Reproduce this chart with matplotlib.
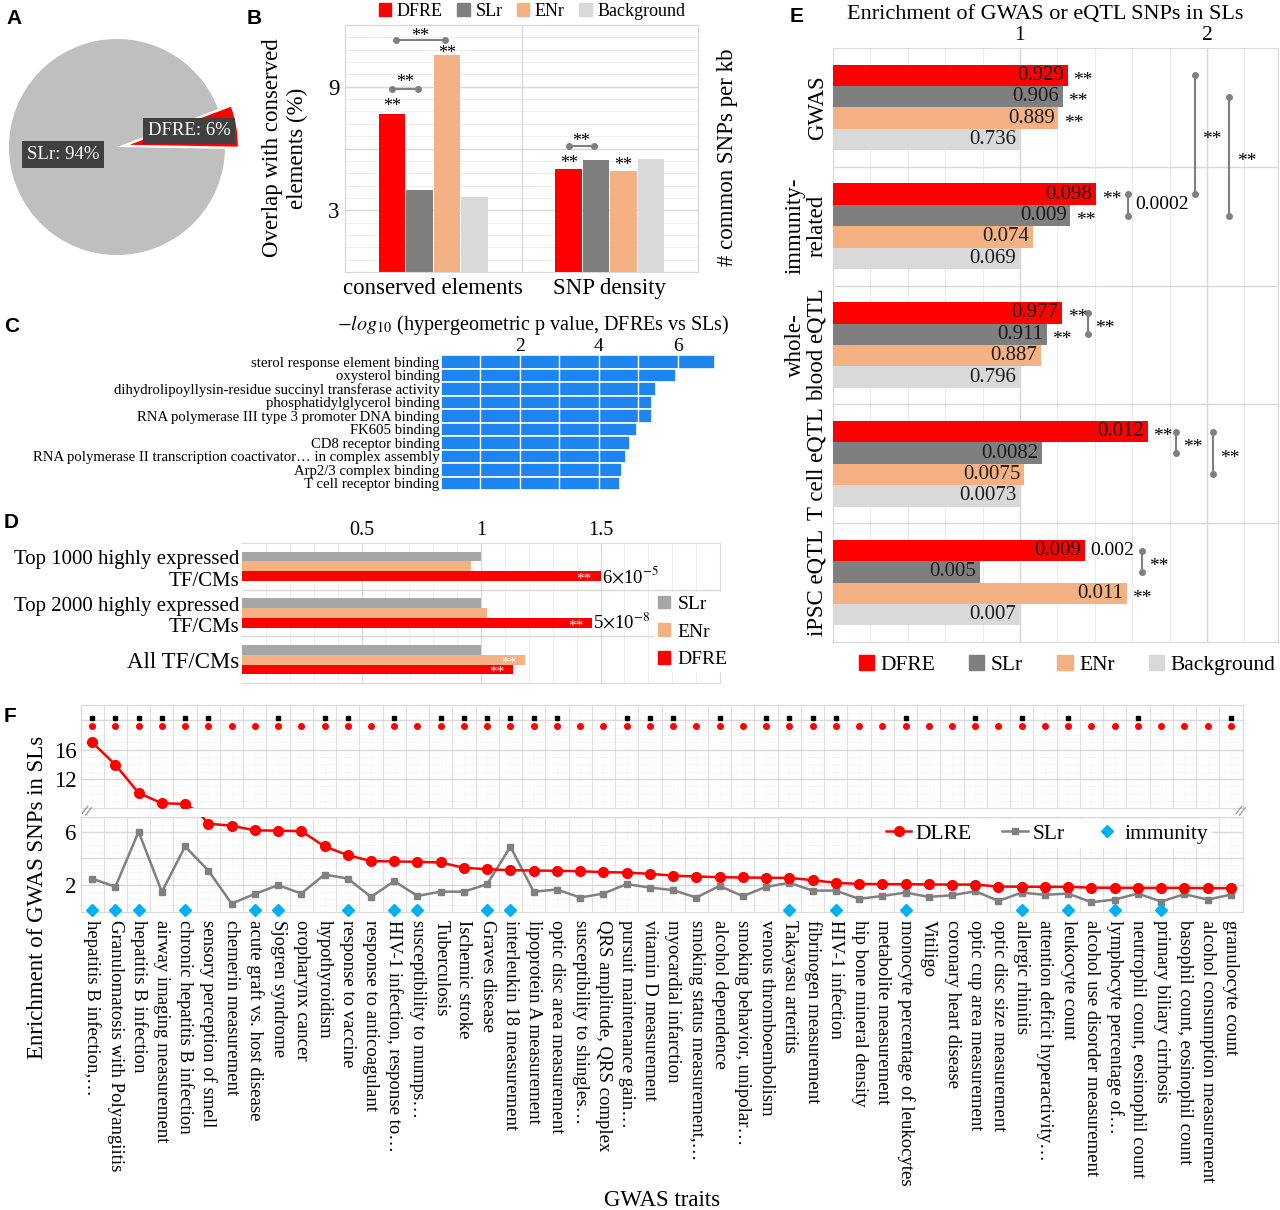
import matplotlib
matplotlib.use('agg')
import matplotlib.pyplot as plt
from matplotlib.lines import Line2D
from matplotlib.patches import Patch
from matplotlib.transforms import blended_transform_factory, offset_copy
import numpy as np

plt.rcParams['font.family'] = ['Liberation Serif', 'DejaVu Serif']
plt.rcParams['mathtext.fontset'] = 'stix'

# ---------------- data ----------------
# A: share of SL regions
pie_names = ['DFRE', 'SLr']
pie_share = [6, 94]

# B: overlap with conserved elements / SNP density
b_cats = ['conserved elements', 'SNP density']
b_series = ['DFRE', 'SLr', 'ENr', 'Background']
b_conserved = [7.7, 4.0, 10.55, 3.65]
b_snp_density = [5.0, 5.45, 4.9, 5.5]

# C: GO terms, -log10 p
c_terms = ['sterol response element binding',
           'oxysterol binding',
           'dihydrolipoyllysin-residue succinyl transferase activity',
           'phosphatidylglycerol binding',
           'RNA polymerase III type 3 promoter DNA binding',
           'FK605 binding',
           'CD8 receptor binding',
           'RNA polymerase II transcription coactivator\u2026 in complex assembly',
           'Arp2/3 complex binding',
           'T cell receptor binding']
c_logp = [6.95, 5.95, 5.45, 5.35, 5.35, 4.98, 4.79, 4.7, 4.59, 4.53]

# D: enrichment in TF/CM genes
d_cats = ['Top 1000 highly expressed\nTF/CMs', 'Top 2000 highly expressed\nTF/CMs', 'All TF/CMs']
d_slr = [1.0, 1.0, 1.0]
d_enr = [0.96, 1.025, 1.185]
d_dfre = [1.5, 1.465, 1.135]
d_pval = [r'6$\times$10$^{-5}$', r'5$\times$10$^{-8}$', '']

# E: enrichment of GWAS / eQTL SNPs
e_groups = ['GWAS', 'immunity-\nrelated', 'whole-\nblood eQTL', 'T cell eQTL', 'iPSC eQTL']
e_series = ['DFRE', 'SLr', 'ENr', 'Background']
e_dfre = [1.255, 1.407, 1.225, 1.684, 1.348]
e_slr = [1.229, 1.27, 1.143, 1.116, 0.784]
e_enr = [1.205, 1.071, 1.11, 1.023, 1.571]
e_bg = [1.0, 1.0, 1.0, 1.0, 1.0]
e_dfre_txt = ['0.929', '0.098', '0.977', '0.012', '0.009']
e_slr_txt = ['0.906', '0.009', '0.911', '0.0082', '0.005']
e_enr_txt = ['0.889', '0.074', '0.887', '0.0075', '0.011']
e_bg_txt = ['0.736', '0.069', '0.796', '0.0073', '0.007']
e_dfre_star = [1, 1, 1, 1, 0]
e_slr_star = [1, 1, 1, 0, 0]
e_enr_star = [1, 0, 0, 0, 1]
e_bg_star = [0, 0, 0, 0, 0]

# F: GWAS traits
f_traits = ['hepatitis B infection,\u2026', 'Granulomatosis with Polyangiitis', 'hepatitis B infection',
            'airway imaging measurement', 'chronic hepatitis B infection', 'sensory perception of smell',
            'chemerin measurement', 'acute graft vs. host disease', 'Sjogren syndrome', 'oropharynx cancer',
            'hypothyroidism', 'response to vaccine', 'response to anticoagulant',
            'HIV-1 infection, response to\u2026', 'susceptibility to mumps\u2026', 'Tuberculosis',
            'Ischemic stroke', 'Graves disease', 'interleukin 18 measurement', 'lipoprotein A measurement',
            'optic disc area measurement', 'susceptibility to shingles\u2026', 'QRS amplitude, QRS complex',
            'pursuit maintenance gain\u2026', 'vitamin D measurement', 'myocardial infarction',
            'smoking status measurement,\u2026', 'alcohol dependence', 'smoking behavior, unipolar\u2026',
            'venous thromboembolism', 'Takayasu arteritis', 'fibrinogen measurement', 'HIV-1 infection',
            'hip bone mineral density', 'metabolite measurement', 'monocyte percentage of leukocytes',
            'Vitiligo', 'coronary heart disease', 'optic cup area measurement', 'optic disc size measurement',
            'allergic rhinitis', 'attention deficit hyperactivity\u2026', 'leukocyte count',
            'alcohol use disorder measurement', 'lymphocyte percentage of\u2026',
            'neutrophil count, eosinophil count', 'primary biliary cirrhosis',
            'basophil count, eosinophil count', 'alcohol consumption measurement', 'granulocyte count']
f_dlre = [17.0, 13.95, 10.1, 8.7, 8.6, 6.6, 6.45, 6.1, 6.08, 6.05,
          4.9, 4.25, 3.8, 3.78, 3.75, 3.7, 3.3, 3.2, 3.12, 3.1,
          3.08, 3.05, 2.98, 2.95, 2.85, 2.72, 2.65, 2.6, 2.58, 2.56,
          2.55, 2.38, 2.18, 2.1, 2.08, 2.08, 2.06, 2.05, 2.05, 1.9,
          1.89, 1.88, 1.88, 1.82, 1.81, 1.8, 1.8, 1.8, 1.78, 1.78]
f_slr = [2.5, 1.88, 6.0, 1.5, 4.9, 3.1, 0.63, 1.35, 2.0, 1.38,
         2.8, 2.5, 1.13, 2.3, 1.2, 1.52, 1.52, 2.08, 4.88, 1.52,
         1.68, 1.08, 1.38, 2.08, 1.83, 1.63, 1.08, 1.95, 1.18, 1.88,
         2.18, 1.6, 1.6, 0.98, 1.2, 1.45, 1.13, 1.25, 1.55, 0.83,
         1.45, 1.28, 1.38, 0.73, 0.93, 1.38, 0.78, 1.33, 0.93, 1.3]
f_slr_sig = [1, 2, 3, 4, 5, 6, 9, 11, 12, 14, 16, 17, 18, 19, 20, 21, 24, 25, 26, 28,
             30, 31, 32, 33, 36, 39, 41, 43, 46, 50]
f_immunity = [1, 2, 3, 5, 8, 9, 12, 14, 15, 18, 19, 31, 33, 36, 41, 43, 45, 47]

# ---------------- style ----------------
RED = '#FF0000'
SLR = '#7F7F7F'
ENR = '#F4B183'
BGC = '#D9D9D9'
D_SLR = '#A6A6A6'
BLUE = '#1E85F0'
IMM = '#00B0F0'
GRID = '#D9D9D9'
MINOR = '#EEEEEE'

W, H = 1280, 1210
fig = plt.figure(figsize=(W / 100, H / 100), dpi=100)


def add_ax(l, t, r, b):
    return fig.add_axes([l / W, 1 - b / H, (r - l) / W, (b - t) / H])


def ftext(x, y, s, **kw):
    return fig.text(x / W, 1 - y / H, s, **kw)


def stars(ax, x, y, fs=13, dy=-5, **kw):
    # asterisks sit high in the line box, so nudge them down a few pixels
    tr = offset_copy(ax.transData, fig=fig, x=0, y=dy, units='dots')
    kw.setdefault('ha', 'center')
    return ax.text(x, y, '**', va='center', fontsize=fs, transform=tr, **kw)


def light_spines(ax, color=GRID):
    for sp in ax.spines.values():
        sp.set_color(color)
        sp.set_linewidth(0.8)


for lab, x, y in [('A', 6, 18), ('B', 247, 18), ('C', 4, 326), ('D', 4, 522), ('E', 790, 16), ('F', 4, 717)]:
    ftext(x, y, lab, fontsize=15, fontweight='bold', family='Liberation Sans', va='center')

# ---------------- A ----------------
axA = add_ax(9, 39, 225, 255)
wedges, _ = axA.pie(pie_share, colors=[RED, '#BFBFBF'], startangle=-1, explode=[0.12, 0],
                    wedgeprops=dict(linewidth=0))
for w in wedges:
    w.set_clip_on(False)
axA.set_xlim(-1, 1)
axA.set_ylim(-1, 1)
box = dict(boxstyle='square,pad=0.25', fc='#404040', ec='none')
axA.text(0.67, 0.15, '%s: %d%%' % (pie_names[0], pie_share[0]), color='white', fontsize=13.5,
         ha='center', va='center', bbox=box)
axA.text(-0.5, -0.07, '%s: %d%%' % (pie_names[1], pie_share[1]), color='white', fontsize=13.5,
         ha='center', va='center', bbox=box)

# ---------------- B ----------------
axB = add_ax(345, 25, 698, 272)
b_off = [-0.233, -0.077, 0.078, 0.233]
b_cols = [RED, SLR, ENR, BGC]
for i in range(4):
    axB.bar(b_off[i], b_conserved[i], width=0.15, color=b_cols[i], zorder=3)
axB2 = axB.twinx()
for i in range(4):
    axB2.bar(1 + b_off[i], b_snp_density[i], width=0.15, color=b_cols[i], zorder=3)
for a in (axB, axB2):
    a.set_ylim(0, 12)
    a.set_xlim(-0.5, 1.5)
    light_spines(a)
axB2.set_yticks([])
for v in np.arange(0.6, 12, 0.6):
    axB.axhline(v, color=MINOR, lw=0.8, zorder=0)
for v in [3, 6, 9]:
    axB.axhline(v, color=GRID, lw=1, zorder=1)
axB.axvline(0.5, color=GRID, lw=1, zorder=1)
axB.set_yticks([3, 9])
axB.set_xticks([0, 1])
axB.set_xticklabels(b_cats)
axB.tick_params(length=0, labelsize=16.5, pad=4)


def hbracket(ax, x1, x2, y, ty):
    ax.plot([x1, x2], [y, y], color='#808080', lw=1.5, marker='o', ms=4, zorder=4)
    stars(ax, (x1 + x2) / 2, ty)


stars(axB2, b_off[0], 8.3)
stars(axB2, b_off[2], 10.85)
hbracket(axB2, b_off[0], -0.085, 8.9, 9.45)
hbracket(axB2, -0.21, 0.065, 11.25, 11.7)
stars(axB2, 1 + b_off[0], 5.5)
stars(axB2, 1 + b_off[2], 5.4)
hbracket(axB2, 1 + b_off[0], 1 - 0.088, 6.1, 6.6)

fig.legend([Patch(color=c) for c in b_cols], b_series, loc='center', bbox_to_anchor=(532 / W, 1 - 11 / H),
           ncol=4, frameon=False, fontsize=13, handlelength=0.7, handleheight=0.7, handletextpad=0.3,
           columnspacing=0.8, borderpad=0)
ftext(285, 148, 'Overlap with conserved\nelements (%)', rotation=90, ha='center', va='center', fontsize=16.5)
ftext(727, 157, '# common SNPs per kb', rotation=90, ha='center', va='center', fontsize=16.5)

# ---------------- C ----------------
axC = add_ax(441, 355, 725, 490)
yc = np.arange(len(c_terms))
axC.barh(yc, c_logp, height=1.0, color=BLUE, edgecolor='white', linewidth=1.2, zorder=2)
for v in range(1, 7):
    axC.axvline(v, color='white', lw=1, zorder=3)
axC.set_ylim(len(c_terms) - 0.5, -0.5)
axC.set_xlim(0, 7.2)
axC.set_yticks(yc)
axC.set_yticklabels(c_terms, fontsize=10.6)
axC.xaxis.tick_top()
axC.set_xticks([2, 4, 6])
axC.tick_params(length=0, pad=1)
axC.tick_params(axis='x', labelsize=14, pad=0)
for sp in axC.spines.values():
    sp.set_visible(False)
ftext(533, 325, r'$-log_{10}$ (hypergeometric p value, DFREs vs SLs)', ha='center', va='center', fontsize=14.5)

# ---------------- D ----------------
axD = add_ax(242, 543, 720, 683)
yd = np.arange(len(d_cats))
axD.barh(yd - 0.21, d_slr, height=0.21, color=D_SLR, zorder=3)
axD.barh(yd, d_enr, height=0.21, color=ENR, zorder=3)
axD.barh(yd + 0.21, d_dfre, height=0.21, color=RED, zorder=3)
axD.set_ylim(2.5, -0.5)
axD.set_xlim(0, 2.0)
for v in np.arange(0.1, 2.0, 0.1):
    axD.axvline(v, color=MINOR, lw=0.8, zorder=0)
for v in [0.5, 1.0, 1.5]:
    axD.axvline(v, color=GRID, lw=0.8, zorder=1)
for v in [0.5, 1.5]:
    axD.axhline(v, color=GRID, lw=1, zorder=1)
axD.set_yticks(yd)
axD.set_yticklabels(d_cats, fontsize=15)
axD.get_yticklabels()[2].set_fontsize(16.5)
axD.xaxis.tick_top()
axD.set_xticks([0.5, 1, 1.5])
axD.set_xticklabels(['0.5', '1', '1.5'])
axD.tick_params(length=0, pad=2)
axD.tick_params(axis='x', labelsize=14.5)
light_spines(axD)
axD.spines['left'].set_visible(False)
for i in range(3):
    if d_pval[i]:
        axD.text(d_dfre[i] + 0.005, i + 0.21, d_pval[i], ha='left', va='center', fontsize=13.5)
        stars(axD, d_dfre[i] - 0.07, i + 0.21, fs=11, dy=-3, color='white', zorder=4)
stars(axD, d_dfre[2] - 0.07, 2 + 0.21, fs=11, dy=-3, color='white', zorder=4)
stars(axD, d_enr[2] - 0.07, 2, fs=11, dy=-3, color='white', zorder=4)
fig.legend([Patch(color=c) for c in [D_SLR, ENR, RED]], ['SLr', 'ENr', 'DFRE'], loc='center',
           bbox_to_anchor=(693 / W, 1 - 632 / H), fontsize=14, handlelength=0.6, handleheight=0.6,
           handletextpad=0.4, labelspacing=0.55, frameon=True, facecolor='white', edgecolor='none',
           framealpha=1, borderpad=0.2)

# ---------------- E ----------------
axE = add_ax(833, 48, 1278, 642)
e_off = [-0.27, -0.09, 0.09, 0.27]
e_vals = [e_dfre, e_slr, e_enr, e_bg]
e_txt = [e_dfre_txt, e_slr_txt, e_enr_txt, e_bg_txt]
e_star = [e_dfre_star, e_slr_star, e_enr_star, e_bg_star]
e_cols = [RED, SLR, ENR, BGC]
ye = np.arange(len(e_groups))
for s in range(4):
    axE.barh(ye + e_off[s], e_vals[s], height=0.18, color=e_cols[s], zorder=3)
    for g in range(len(e_groups)):
        axE.text(e_vals[s][g] - 0.02, g + e_off[s], e_txt[s][g], ha='right', va='center',
                 fontsize=15, color='#1a1a1a', zorder=4)
        if e_star[s][g]:
            stars(axE, e_vals[s][g] + 0.03, g + e_off[s], fs=14, ha='left', zorder=4)
axE.text(e_dfre[4] + 0.03, 4 + e_off[0], '0.002', ha='left', va='center', fontsize=14)
axE.set_xlim(0, 2.38)
axE.set_ylim(4.5, -0.5)
for v in np.arange(0.2, 2.38, 0.2):
    axE.axvline(v, color='#EBEBEB', lw=0.8, zorder=0)
for v in [1, 2]:
    axE.axvline(v, color=GRID, lw=1, zorder=1)
for v in np.arange(0.5, 4.5, 1):
    axE.axhline(v, color=GRID, lw=1, zorder=1)
axE.xaxis.tick_top()
axE.set_xticks([1, 2])
axE.set_yticks([])
axE.tick_params(length=0, labelsize=15.5, pad=2)
light_spines(axE)
trE = blended_transform_factory(axE.transAxes, axE.transData)
for g, lab in enumerate(e_groups):
    axE.text(-0.012, g, lab, transform=trE, rotation=90, ha='right', va='center',
             multialignment='center', fontsize=16.5, linespacing=1.05)


def vbracket(ax, x, y1, y2, txt, fs=14):
    ax.plot([x, x], [y1, y2], color='#808080', lw=1.5, marker='o', ms=4, zorder=4, clip_on=False)
    if txt == '**':
        stars(ax, x + 0.04, (y1 + y2) / 2, fs=fs, ha='left')
    else:
        ax.text(x + 0.04, (y1 + y2) / 2, txt, ha='left', va='center', fontsize=fs)


vbracket(axE, 1.936, 0 + e_off[0], 1 + e_off[0], '**')
vbracket(axE, 2.12, 0 + e_off[1], 1 + e_off[1], '**')
vbracket(axE, 1.578, 1 + e_off[0], 1 + e_off[1], '0.0002')
vbracket(axE, 1.364, 2 + e_off[0], 2 + e_off[1], '**')
vbracket(axE, 1.834, 3 + e_off[0], 3 + e_off[1], '**')
vbracket(axE, 2.03, 3 + e_off[0], 3 + e_off[2], '**')
vbracket(axE, 1.65, 4 + e_off[0], 4 + e_off[1], '**')
ftext(1045, 14, 'Enrichment of GWAS or eQTL SNPs in SLs', ha='center', va='center', fontsize=16)
fig.legend([Patch(color=c) for c in e_cols], e_series, loc='center', bbox_to_anchor=(1067 / W, 1 - 665 / H),
           ncol=4, frameon=False, fontsize=15.5, handlelength=0.7, handleheight=0.7, handletextpad=0.3,
           columnspacing=1.6, borderpad=0)

# ---------------- F ----------------
axFu = add_ax(80.5, 705, 1242.5, 808)
axFl = add_ax(80.5, 817, 1242.5, 912)
xf = np.arange(len(f_traits))
for a in (axFu, axFl):
    a.plot(xf, f_slr, color='#808080', lw=1.8, marker='s', ms=5, zorder=3)
    a.plot(xf, f_dlre, color=RED, lw=1.8, marker='o', ms=7, zorder=4)
    a.set_xlim(-0.5, len(f_traits) - 0.5)
    for k in range(len(f_traits) + 1):
        a.axvline(k - 0.5, color='#E0E0E0', lw=0.8, zorder=0)
    for k in range(len(f_traits)):
        a.axvline(k, color='#EEEEEE', lw=0.6, ls=':', zorder=0)
    light_spines(a)
    a.tick_params(length=0, labelsize=16.5, pad=3)
axFu.set_ylim(8.05, 22.1)
axFl.set_ylim(0, 7.1)
for v in np.arange(9, 22, 1):
    axFu.axhline(v, color='#E6E6E6', lw=0.6, ls=':', zorder=0)
for v in [12, 16, 20]:
    axFu.axhline(v, color=GRID, lw=1, zorder=1)
for v in np.arange(0.5, 7.1, 0.5):
    axFl.axhline(v, color='#E6E6E6', lw=0.6, ls=':', zorder=0)
for v in [2, 4, 6]:
    axFl.axhline(v, color=GRID, lw=1, zorder=1)
axFu.set_yticks([12, 16])
axFl.set_yticks([2, 6])
axFu.set_xticks([])
axFu.plot(xf, [19.3] * len(xf), 'o', color=RED, ms=4, zorder=5)
axFu.plot(np.array(f_slr_sig) - 1, [20.3] * len(f_slr_sig), 's', color='black', ms=3, zorder=5)
axFl.plot(np.array(f_immunity) - 1, [0.12] * len(f_immunity), 'D', color=IMM, ms=6, zorder=5, clip_on=False)
axFl.set_xticks(xf)
axFl.set_xticklabels(f_traits, rotation=270, fontsize=13.5, va='top', ha='center')
axFl.tick_params(axis='x', pad=6)
fhandles = [Line2D([], [], color=RED, marker='o', ms=7, lw=1.8),
            Line2D([], [], color='#808080', marker='s', ms=5, lw=1.8),
            Line2D([], [], color=IMM, marker='D', ms=6, ls='none')]
axFl.legend(fhandles, ['DLRE', 'SLr', 'immunity'], loc='upper right', bbox_to_anchor=(0.976, 1.0), ncol=3,
            fontsize=15.5, frameon=True, facecolor='white', edgecolor='none', framealpha=1,
            handlelength=1.2, handletextpad=0.2, columnspacing=1.4, borderaxespad=0.1, borderpad=0.2)
ftext(86, 812, '//', ha='center', va='center', fontsize=10, color='#404040', rotation=-20)
ftext(1240, 812, '//', ha='center', va='center', fontsize=10, color='#404040', rotation=-20)
ftext(38, 897, 'Enrichment of GWAS SNPs in SLs', rotation=90, ha='center', va='center', fontsize=16.5)
ftext(662, 1200, 'GWAS traits', ha='center', va='center', fontsize=16.5)

fig.savefig('out.png', dpi=100)
